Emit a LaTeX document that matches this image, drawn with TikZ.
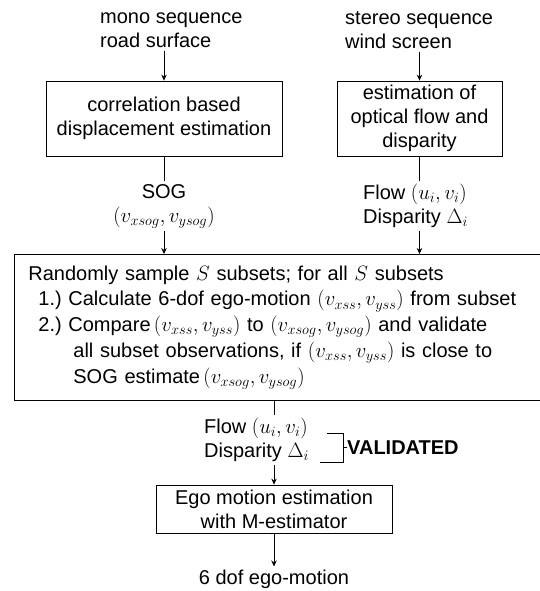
\documentclass[tikz,border=0pt]{standalone}
\usepackage{fontspec}
\setmainfont{Liberation Sans}
\usetikzlibrary{arrows.meta,calc}
\begin{document}
\begin{tikzpicture}[x=1pt,y=-1pt,
  font=\fontsize{20}{24}\selectfont,
  conn/.style={line width=0.8pt},
  arr/.style={conn,-{Stealth[length=6pt,width=5.5pt]}},
  procbox/.style={draw,conn,align=center,inner sep=0pt},
  lbl/.style={inner sep=3pt}]
\useasboundingbox (0,0) rectangle (539,591);

% inputs and first processing stage
\node[lbl,anchor=west,align=left] (mono) at (97,30) {mono sequence\\road surface};
\node[lbl,anchor=west,align=left] (stereo) at (342,30) {stereo sequence\\wind screen};
\node[procbox,minimum width=236pt,minimum height=75pt] (corr) at (164,118.5)
  {correlation based\\displacement estimation};
\node[procbox,minimum width=165pt,minimum height=75pt] (flowest) at (419.5,118.5)
  {estimation of\\optical flow and\\disparity};

% intermediate results
\node[lbl,align=center] (sog) at (164,206) {SOG\\$(v_{xsog},v_{ysog})$};
\node[lbl,anchor=west,align=left] (flowlab) at (360,206) {Flow $(u_i,v_i)$\\Disparity $\Delta_i$};

% sampling and validation stage
\node[draw,conn,anchor=north west,minimum height=146pt,text width=512pt,
  inner xsep=14pt,inner ysep=0pt,align=left,
  font=\fontsize{20}{25.7}\selectfont] (ransac) at (14,254)
  {Randomly sample $S$ subsets; for all $S$ subsets\\
   \hspace*{10pt}1.)\ Calculate 6-dof ego-motion $(v_{xss},v_{yss})$ from subset\\
   \hspace*{10pt}2.)\ Compare\,$(v_{xss},v_{yss})$ to $(v_{xsog},v_{ysog})$ and validate\\
   \hspace*{45pt}all subset observations, if $(v_{xss},v_{yss})$ is close to\\
   \hspace*{45pt}SOG estimate\,$(v_{xsog},v_{ysog})$};

% validated observations and final estimation
\node[lbl,anchor=west,align=left] (vflow) at (201,440) {Flow $(u_i,v_i)$\\Disparity $\Delta_i$};
\node[anchor=west,inner sep=0pt,font=\fontsize{20}{24}\selectfont\bfseries] (valid) at (347,447.5) {VALIDATED};
\node[procbox,minimum width=236pt,minimum height=48pt] (mest) at (274,509)
  {Ego motion estimation\\with M-estimator};
\node[lbl] (out) at (274,579) {6 dof ego-motion};

% bracket grouping the validated observations
\coordinate (bt1) at (327,433);
\coordinate (bt2) at (343,433);
\coordinate (bb1) at (320,462);
\coordinate (bb2) at (343,462);
\coordinate (bm) at (343,447.5);

% connectors
\draw[arr] (corr.north |- mono.south) -- (corr.north);
\draw[arr] (flowest.north |- stereo.south) -- (flowest.north);
\draw[conn] (corr.south) -- (corr.south |- sog.north);
\draw[arr] (corr.south |- sog.south) -- (corr.south |- ransac.north);
\draw[conn] (flowest.south) -- (flowest.south |- flowlab.north);
\draw[arr] (flowest.south |- flowlab.south) -- (flowest.south |- ransac.north);
\draw[conn] (mest.north |- ransac.south) -- (mest.north |- vflow.north);
\draw[arr] (mest.north |- vflow.south) -- (mest.north);
\draw[arr] (mest.south) -- (out.north);
\draw[conn] (bt1) -- (bt2) -- (bb2) -- (bb1);
\draw[conn] (bm) -- (valid.west);
\end{tikzpicture}
\end{document}
